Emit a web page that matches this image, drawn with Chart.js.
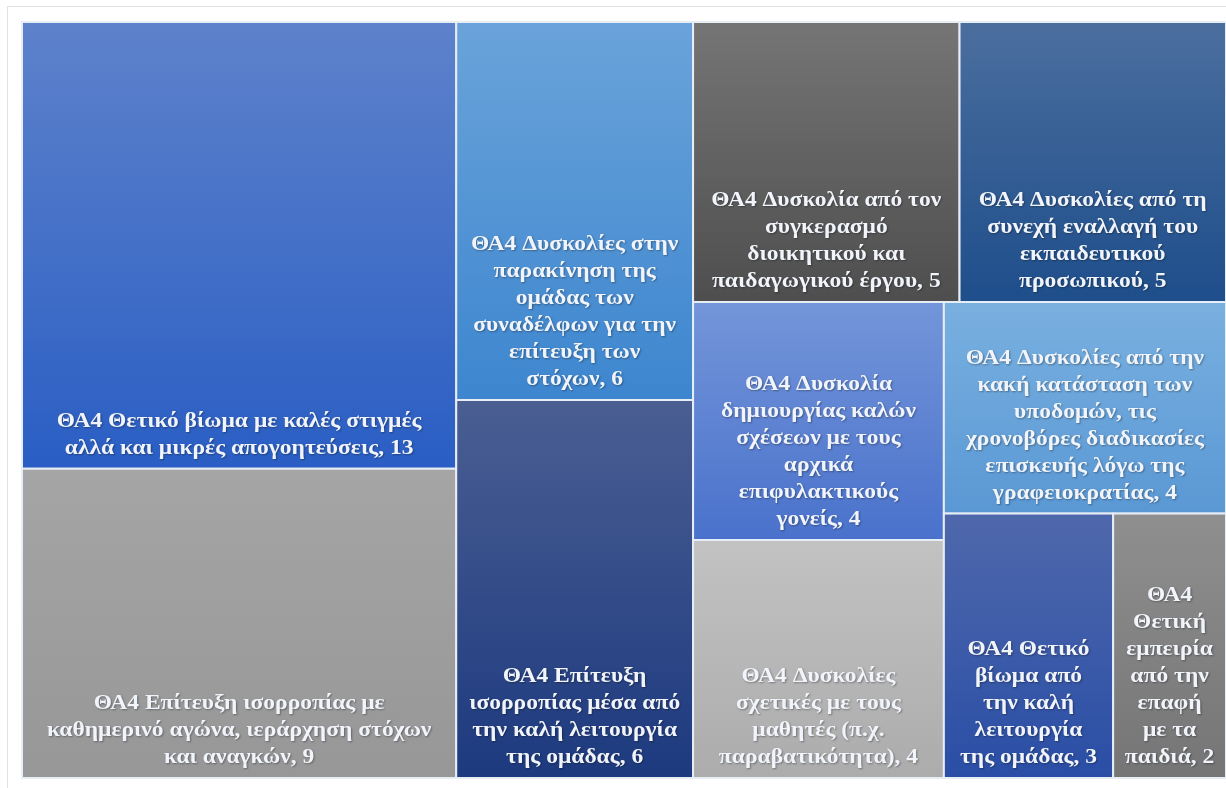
<!DOCTYPE html>
<html>
<head>
<meta charset="utf-8">
<script src="https://cdn.jsdelivr.net/npm/chart.js@4.4.0/dist/chart.umd.min.js"></script>
<style>
    html, body { margin: 0; padding: 0; background: #ffffff; }
    .frame {
        position: absolute; left: 7px; top: 6px; width: 1230px; height: 790px;
        border-left: 1px solid #e2e2e2; border-top: 1px solid #e2e2e2;
    }
    #wrap { position: absolute; left: 0; top: 0; width: 1226px; height: 788px; }
</style>
</head>
<body>
<div class="frame"></div>
<div id="wrap"><canvas id="treemap" width="1226" height="788"></canvas></div>
<script>
// Θεματικοί άξονες (με τις αλλαγές γραμμής των ετικετών) και πλήθος αναφορών
const themes = [
    'ΘΑ4 Θετικό βίωμα με καλές στιγμές\nαλλά και μικρές απογοητεύσεις',
    'ΘΑ4 Επίτευξη ισορροπίας με\nκαθημερινό αγώνα, ιεράρχηση στόχων\nκαι αναγκών',
    'ΘΑ4 Δυσκολίες στην\nπαρακίνηση της\nομάδας των\nσυναδέλφων για την\nεπίτευξη των\nστόχων',
    'ΘΑ4 Επίτευξη\nισορροπίας μέσα από\nτην καλή λειτουργία\nτης ομάδας',
    'ΘΑ4 Δυσκολία από τον\nσυγκερασμό\nδιοικητικού και\nπαιδαγωγικού έργου',
    'ΘΑ4 Δυσκολίες από τη\nσυνεχή εναλλαγή του\nεκπαιδευτικού\nπροσωπικού',
    'ΘΑ4 Δυσκολία\nδημιουργίας καλών\nσχέσεων με τους\nαρχικά\nεπιφυλακτικούς\nγονείς',
    'ΘΑ4 Δυσκολίες\nσχετικές με τους\nμαθητές (π.χ.\nπαραβατικότητα)',
    'ΘΑ4 Δυσκολίες από την\nκακή κατάσταση των\nυποδομών, τις\nχρονοβόρες διαδικασίες\nεπισκευής λόγω της\nγραφειοκρατίας',
    'ΘΑ4 Θετικό\nβίωμα από\nτην καλή\nλειτουργία\nτης ομάδας',
    'ΘΑ4\nΘετική\nεμπειρία\nαπό την\nεπαφή\nμε τα\nπαιδιά'
];
const counts = [13, 9, 6, 6, 5, 5, 4, 4, 4, 3, 2];

// χρώματα διαβάθμισης (πάνω -> κάτω)
const topColors = ['#5e82cb', '#a5a5a5', '#6aa3da', '#4a5e92', '#757575', '#4b6e9e',
                   '#7395d9', '#c2c2c2', '#79b0e0', '#4f68ab', '#8f8f8f'];
const bottomColors = ['#2a5ec4', '#979797', '#3d86cf', '#1d3a7f', '#4e4e4e', '#1e4e8b',
                      '#4a72cc', '#acacac', '#5a98d4', '#2a4ea6', '#757575'];

// μέγιστη αναλογία πλευρών μιας λωρίδας
function worstRatio(row, side, unit) {
    const sum = row.reduce((a, b) => a + b, 0) * unit;
    const thick = sum / side;
    let worst = 0;
    row.forEach(v => {
        const len = v * unit / thick;
        worst = Math.max(worst, thick / len, len / thick);
    });
    return worst;
}

// squarified διάταξη, κάθε λωρίδα έχει έως δύο πλακίδια
function squarify(values, w, h) {
    const total = values.reduce((a, b) => a + b, 0);
    const unit = (w * h) / total;
    const rects = [];
    let x = 0, y = 0, rw = w, rh = h, i = 0;
    while (i < values.length) {
        const side = Math.min(rw, rh);
        let row = [values[i]];
        let best = worstRatio(row, side, unit);
        while (i + row.length < values.length && row.length < 2) {
            const next = row.concat(values[i + row.length]);
            const r = worstRatio(next, side, unit);
            if (r > best) break;
            row = next;
            best = r;
        }
        const thick = row.reduce((a, b) => a + b, 0) * unit / side;
        const vertical = rw >= rh;
        let off = 0;
        row.forEach((v, k) => {
            const len = v * unit / thick;
            if (vertical) {
                rects.push({ index: i + k, x0: x, y0: y + off, x1: x + thick, y1: y + off + len });
            } else {
                rects.push({ index: i + k, x0: x + off, y0: y, x1: x + off + len, y1: y + thick });
            }
            off += len;
        });
        if (vertical) { x += thick; rw -= thick; } else { y += thick; rh -= thick; }
        i += row.length;
    }
    // κανονικοποίηση στις κλίμακες 0..1
    return rects.map(r => ({ index: r.index, x0: r.x0 / w, x1: r.x1 / w, y0: r.y0 / h, y1: r.y1 / h }));
}

const treemapPlugin = {
    id: 'treemapTiles',
    beforeDatasetsDraw(chart) {
        const { ctx, chartArea, scales } = chart;
        const tiles = squarify(counts, chartArea.right - chartArea.left, chartArea.bottom - chartArea.top);

        tiles.forEach(t => {
            const left = scales.x.getPixelForValue(t.x0);
            const right = scales.x.getPixelForValue(t.x1);
            const top = scales.y.getPixelForValue(t.y0);
            const bottom = scales.y.getPixelForValue(t.y1);

            const grad = ctx.createLinearGradient(0, top, 0, bottom);
            grad.addColorStop(0, topColors[t.index]);
            grad.addColorStop(1, bottomColors[t.index]);

            ctx.save();
            ctx.fillStyle = grad;
            ctx.fillRect(left, top, right - left, bottom - top);
            ctx.strokeStyle = '#e6edf5';
            ctx.lineWidth = 2;
            ctx.strokeRect(left, top, right - left, bottom - top);

            // ετικέτα στο κάτω μέρος του πλακιδίου, ελαφρώς πλατύτερη γραμματοσειρά
            const lines = (themes[t.index] + ', ' + counts[t.index]).split('\n');
            const lineHeight = 27;
            const cx = (left + right) / 2;
            const stretch = 1.07;
            ctx.translate(cx, 0);
            ctx.scale(stretch, 1);
            ctx.font = 'bold 22px "Liberation Serif", "DejaVu Serif", serif';
            ctx.fillStyle = '#f1f5fb';
            ctx.textAlign = 'center';
            ctx.textBaseline = 'alphabetic';
            ctx.shadowColor = 'rgba(0, 0, 0, 0.35)';
            ctx.shadowBlur = 2;
            ctx.shadowOffsetX = 1;
            ctx.shadowOffsetY = 1;
            let baseline = bottom - 15 - (lines.length - 1) * lineHeight;
            lines.forEach(l => {
                ctx.fillText(l, 0, baseline);
                baseline += lineHeight;
            });
            ctx.restore();
        });
    }
};

const ctx = document.getElementById('treemap').getContext('2d');
new Chart(ctx, {
    type: 'scatter',
    data: { datasets: [{ data: [], pointRadius: 0 }] },
    options: {
        responsive: false,
        animation: false,
        devicePixelRatio: 1,
        layout: { padding: { left: 22, top: 22, right: 0, bottom: 10 } },
        plugins: { legend: { display: false }, tooltip: { enabled: false } },
        scales: {
            x: { type: 'linear', min: 0, max: 1, display: false },
            y: { type: 'linear', min: 0, max: 1, reverse: true, display: false }
        }
    },
    plugins: [treemapPlugin]
});
</script>
</body>
</html>
